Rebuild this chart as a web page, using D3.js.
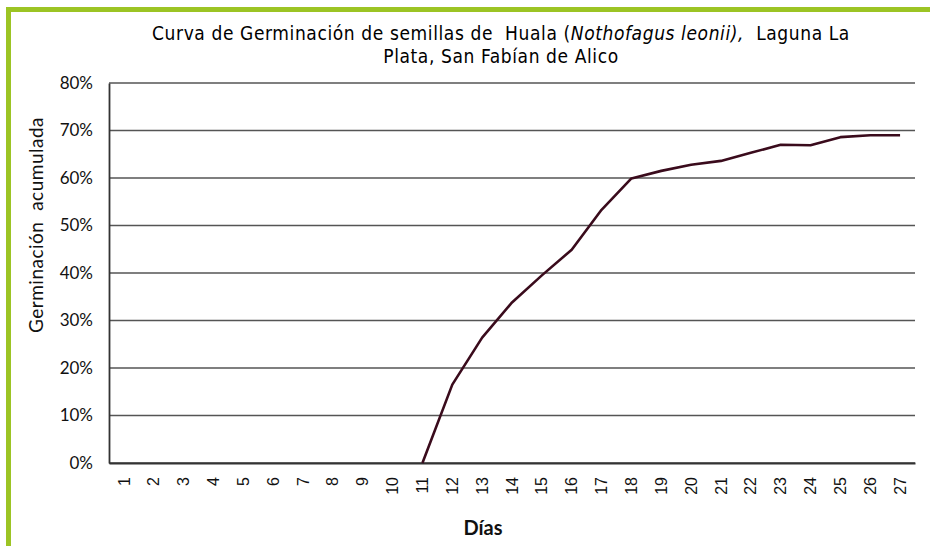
<!DOCTYPE html>
<html>
<head>
<meta charset="utf-8">
<script src="https://cdn.jsdelivr.net/npm/d3@7"></script>
<style>
  body { margin: 0; background: #fff; }
  svg { display: block; }
  text { white-space: pre; }
</style>
</head>
<body>
<svg id="chart" width="935" height="546"></svg>
<script>
// days 1..27, cumulative germination (fraction); days before 11 have no point drawn
var days = d3.range(1, 28).map(String);
var germination = [null, null, null, null, null, null, null, null, null, null,
  0, 0.165, 0.264, 0.338, 0.395, 0.449, 0.533, 0.599, 0.615, 0.628,
  0.636, 0.653, 0.670, 0.669, 0.686, 0.690, 0.690];
var yTicks = [0, 0.1, 0.2, 0.3, 0.4, 0.5, 0.6, 0.7, 0.8];

var svg = d3.select("#chart");
var margin = { left: 109, top: 83 };
var plotRight = 915, plotBottom = 463;

// green frame, top and left only
svg.append("rect").attr("x", 6).attr("y", 7).attr("width", 924).attr("height", 5).attr("fill", "#9cc424");
svg.append("rect").attr("x", 6).attr("y", 7).attr("width", 5).attr("height", 539).attr("fill", "#9cc424");

var x = d3.scaleBand().domain(days).range([margin.left, plotRight]);
var y = d3.scaleLinear().domain([0, 0.8]).range([plotBottom, margin.top]);

// horizontal grid lines
svg.append("g").selectAll("line").data(yTicks).enter()
  .append("line")
  .attr("x1", margin.left).attr("x2", plotRight)
  .attr("y1", function (d) { return y(d); })
  .attr("y2", function (d) { return y(d); })
  .attr("stroke", "#555")
  .attr("stroke-width", 1.6);

// y axis labels
var yAxis = d3.axisLeft(y).tickValues(yTicks).tickFormat(d3.format(".0%")).tickSize(0).tickPadding(16);
var gy = svg.append("g").attr("transform", "translate(" + margin.left + ",0)").call(yAxis);
gy.select(".domain").attr("stroke", "#333").attr("stroke-width", 1.8);
gy.selectAll("text")
  .attr("font-family", "Lato, 'Open Sans', sans-serif")
  .attr("font-size", 17)
  .attr("fill", "#111");

// x axis
var xAxis = d3.axisBottom(x).tickSize(0).tickPadding(0);
var gx = svg.append("g").attr("transform", "translate(0," + plotBottom + ")").call(xAxis);
gx.select(".domain").attr("stroke", "#333").attr("stroke-width", 2);
gx.selectAll("text")
  .attr("font-family", "'Liberation Sans', Arial, sans-serif")
  .attr("font-size", 16)
  .attr("fill", "#111")
  .attr("text-anchor", "end")
  .attr("dy", "0.35em")
  .attr("transform", "translate(0,14) rotate(-90)");

// the curve
var line = d3.line()
  .defined(function (d) { return d != null; })
  .x(function (d, i) { return x(days[i]) + x.bandwidth() / 2; })
  .y(function (d) { return y(d); });

svg.append("path")
  .datum(germination)
  .attr("d", line)
  .attr("fill", "none")
  .attr("stroke", "#3a0b1c")
  .attr("stroke-width", 2.6)
  .attr("stroke-linejoin", "round");

// title
var titleFont = "'DejaVu Sans Condensed', 'DejaVu Sans', sans-serif";
var title = svg.append("text")
  .attr("x", 501).attr("y", 40)
  .attr("text-anchor", "middle")
  .attr("font-family", titleFont)
  .attr("font-size", 19)
  .attr("letter-spacing", 0.6)
  .attr("fill", "#000");
title.append("tspan").text("Curva de Germinación de semillas de  Huala (");
title.append("tspan").attr("font-style", "italic").text("Nothofagus leonii),");
title.append("tspan").text("  Laguna La");
svg.append("text")
  .attr("x", 501).attr("y", 63)
  .attr("text-anchor", "middle")
  .attr("font-family", titleFont)
  .attr("font-size", 19)
  .attr("letter-spacing", 0.6)
  .attr("fill", "#000")
  .text("Plata, San Fabían de Alico");

// axis titles
svg.append("text")
  .attr("transform", "translate(43,225) rotate(-90)")
  .attr("text-anchor", "middle")
  .attr("font-family", "Lato, 'Open Sans', sans-serif")
  .attr("font-size", 19)
  .attr("letter-spacing", 0.5)
  .attr("fill", "#111")
  .text("Germinación  acumulada");

svg.append("text")
  .attr("x", 483).attr("y", 535)
  .attr("text-anchor", "middle")
  .attr("font-family", "Lato, 'Open Sans', sans-serif")
  .attr("font-weight", "bold")
  .attr("font-size", 20)
  .attr("fill", "#111")
  .text("Días");
</script>
</body>
</html>
